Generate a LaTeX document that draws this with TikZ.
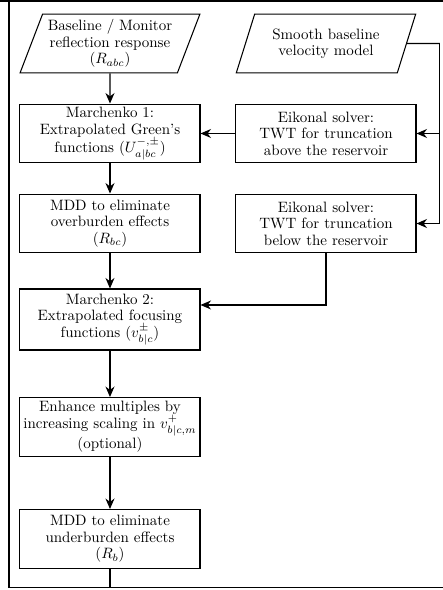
\documentclass[tikz,border=0pt]{standalone}
\usetikzlibrary{shapes.geometric,arrows.meta}

\tikzset{
    box/.style={draw, align=center, font=\fontsize{10}{11}\selectfont,
        minimum width=4.22cm, minimum height=1.38cm, inner sep=2pt, line width=0.7pt},
    process/.style={box},
    inputdata/.style={box, trapezium, trapezium left angle=68, trapezium right angle=112,
        trapezium stretches=true, minimum width=4.22cm},
    link/.style={-{Stealth[length=7pt, width=6pt]}, line width=0.7pt},
    wire/.style={line width=0.7pt}
}

\begin{document}
\begin{tikzpicture}
    \useasboundingbox (0,0) rectangle (10.384,-13.83);

    \node[inputdata] (response) at (2.578,-1.02)
        {Baseline / Monitor\\reflection response\\$(R_{abc})$};
    \node[inputdata] (velocity) at (7.641,-1.02)
        {Smooth baseline\\velocity model};
    \node[process] (marchenko-1) at (2.578,-3.129)
        {Marchenko 1:\\Extrapolated Green's\\functions $(U^{-,\pm}_{a|bc})$};
    \node[process] (eikonal-above) at (7.641,-3.129)
        {Eikonal solver:\\TWT for truncation\\above the reservoir};
    \node[process] (mdd-over) at (2.578,-5.239)
        {MDD to eliminate\\overburden effects\\$(R_{bc})$};
    \node[process] (eikonal-below) at (7.641,-5.239)
        {Eikonal solver:\\TWT for truncation\\below the reservoir};
    \node[process, minimum height=1.43cm] (marchenko-2) at (2.578,-7.489)
        {Marchenko 2:\\Extrapolated focusing\\functions $(v^{\pm}_{b|c})$};
    \node[process] (enhance) at (2.578,-10.009)
        {Enhance multiples by\\increasing scaling in $v^{+}_{b|c,m}$\\(optional)};
    \node[process] (mdd-under) at (2.578,-12.634)
        {MDD to eliminate\\underburden effects\\$(R_{b})$};

    % loop lines round the chart
    \coordinate (top-left) at (0,-0.023);
    \coordinate (top-right) at (10.384,-0.023);
    \coordinate (loop-top) at (0.211,-0.023);
    \coordinate (loop-bottom) at (0.211,-13.78);
    \coordinate (bottom-right) at (10.384,-13.78);
    \coordinate (velocity-bus) at (10.31,-1.02);

    \draw[wire] (top-left) -- (top-right);
    \draw[wire] (loop-top) -- (loop-bottom) -- (bottom-right);
    \draw[wire] (mdd-under.south) -- (mdd-under.south |- loop-bottom);

    \draw[link] (response) -- (marchenko-1);
    \draw[link] (marchenko-1) -- (mdd-over);
    \draw[link] (mdd-over) -- (marchenko-2);
    \draw[link] (marchenko-2) -- (enhance);
    \draw[link] (enhance) -- (mdd-under);
    \draw[link] (eikonal-above) -- (marchenko-1);
    \draw[link] (eikonal-below.south) |- ([yshift=0.34cm]marchenko-2.east);
    \draw[wire] (velocity.east) -- (velocity-bus);
    \draw[link] (velocity-bus) |- (eikonal-above.east);
    \draw[link] (velocity-bus) |- (eikonal-below.east);
\end{tikzpicture}
\end{document}
